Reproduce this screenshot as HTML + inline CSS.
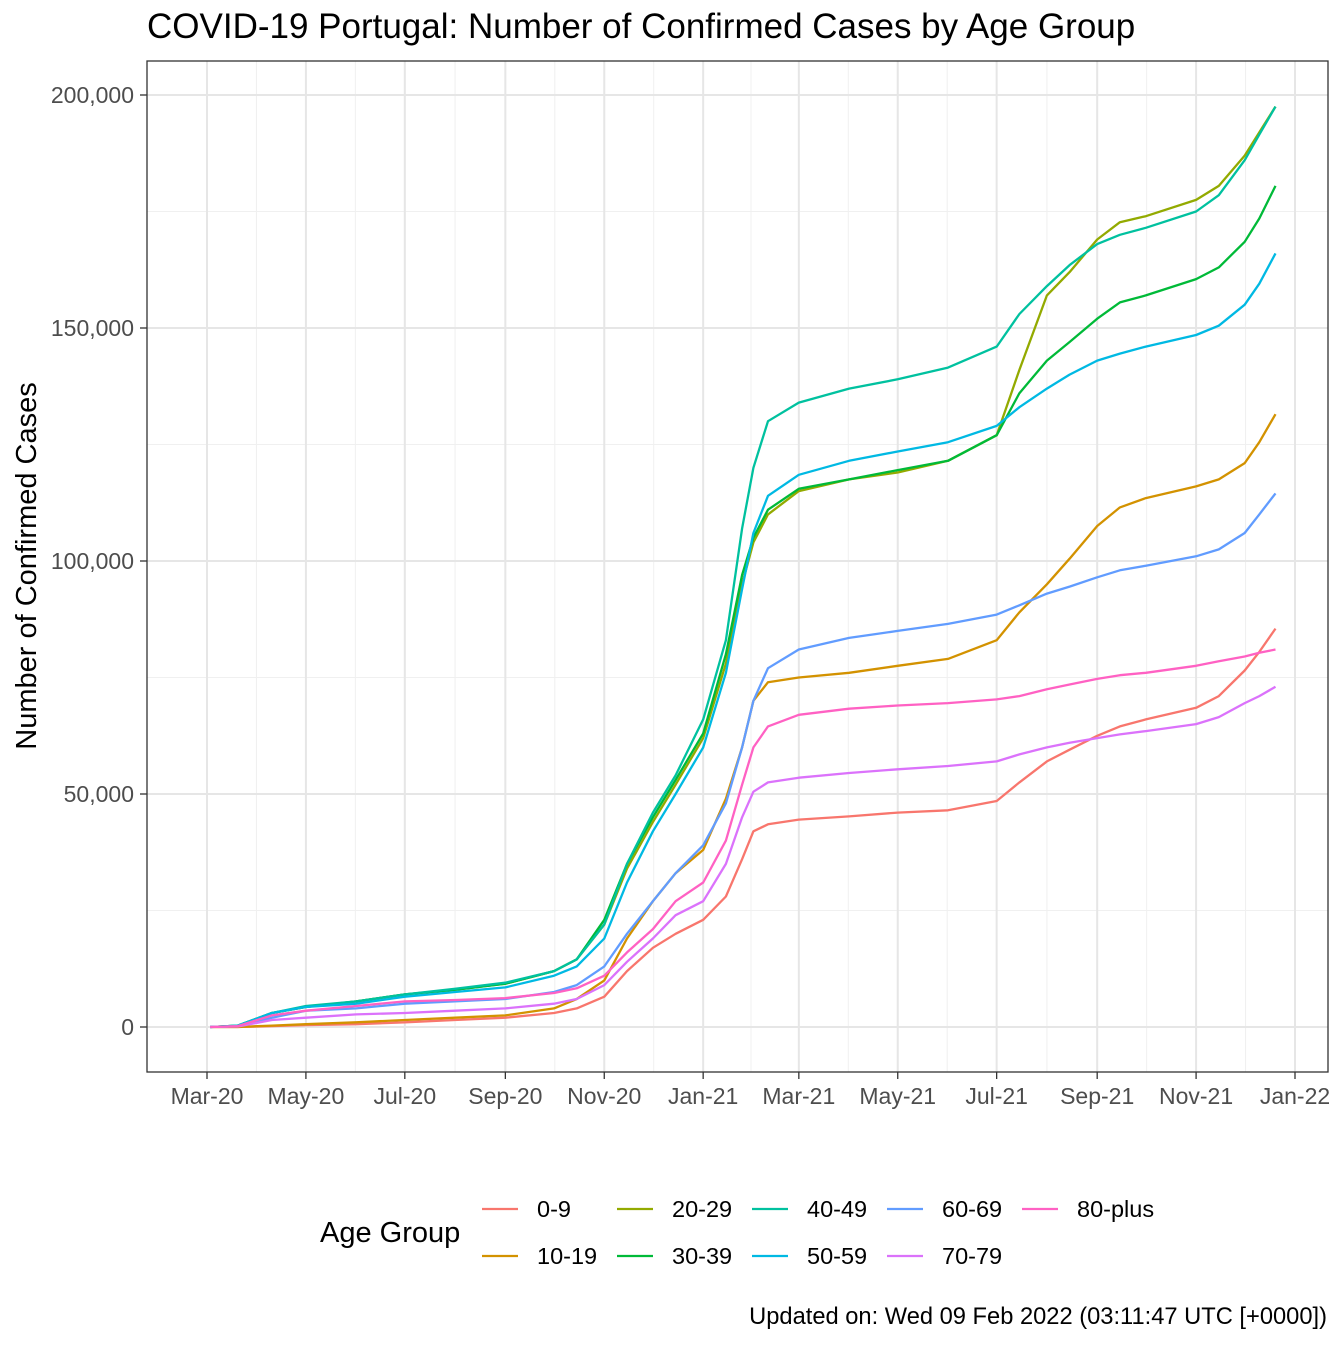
<!DOCTYPE html>
<html><head><meta charset="utf-8"><style>
body{margin:0;background:#fff;}
svg text{font-family:"Liberation Sans",sans-serif;}
</style></head><body>
<svg id="chart" width="1344" height="1344" xmlns="http://www.w3.org/2000/svg">
<rect width="1344" height="1344" fill="#fff"/>
<text x="147" y="38" font-size="35" fill="#000">COVID-19 Portugal: Number of Confirmed Cases by Age Group</text>
<g id="grid"></g>
<g id="series"></g>
<rect x="147" y="61" width="1181" height="1011" fill="none" stroke="#333" stroke-width="1.3"/>
<g id="axes"></g>
<text transform="translate(36,566) rotate(-90)" text-anchor="middle" font-size="29">Number of Confirmed Cases</text>
<g id="legend">
<text x="320" y="1242" font-size="29">Age Group</text>
</g>
<text x="1327" y="1324" text-anchor="end" font-size="23.7">Updated on: Wed 09 Feb 2022 (03:11:47 UTC [+0000])</text>
</svg>
<script>
const dates=["2020-03-03","2020-03-20","2020-04-10","2020-05-01","2020-06-01","2020-07-01","2020-08-01","2020-09-01","2020-10-01","2020-10-15","2020-11-01","2020-11-15","2020-12-01","2020-12-15","2021-01-01","2021-01-15","2021-01-25","2021-02-01","2021-02-10","2021-03-01","2021-04-01","2021-05-01","2021-06-01","2021-07-01","2021-07-15","2021-08-01","2021-08-15","2021-09-01","2021-09-15","2021-10-01","2021-11-01","2021-11-15","2021-12-01","2021-12-10","2021-12-20"];
const groups=["0-9","10-19","20-29","30-39","40-49","50-59","60-69","70-79","80-plus"];
const colors=["#F8766D","#D39200","#93AA00","#00BA38","#00C19F","#00B9E3","#619CFF","#DB72FB","#FF61C3"];
const s0_9=[0,0,0.2,0.4,0.6,1,1.5,2,3,4,6.5,12,17,20,23,28,36,42,43.5,44.5,45.2,46,46.5,48.5,52.5,57,59.5,62.5,64.5,66,68.5,71,76.5,80.5,85.5];
const s10_19=[0,0,0.3,0.6,1,1.5,2,2.5,4,6,10,19,27,33,38,49,60,70,74,75,76,77.5,79,83,89,95,100.5,107.5,111.5,113.5,116,117.5,121,125.5,131.5];
const s20_29=[0,0.3,3,4.3,5.5,7,8,9.3,12,14.5,22,34,44,52,62,78,95,104,110,115,117.5,119,121.5,127,141,157,162,169,172.7,174,177.5,180.5,187,192,197.5];
const s30_39=[0,0.3,3,4.3,5.5,7,8,9.3,12,14.5,23,35,45,53,63,80,97,105,111,115.5,117.5,119.5,121.5,127,136,143,147,152,155.5,157,160.5,163,168.5,173.5,180.5];
const s40_49=[0,0.3,3,4.5,5.5,7,8.2,9.5,12,14.5,22,35,46,54,66,83,107,120,130,134,137,139,141.5,146,153,159,163.5,168,170,171.5,175,178.5,186,191.5,197.5];
const s50_59=[0,0.3,3,4.3,5,6.5,7.5,8.5,11,13,19,31,42,50,60,76,94,106,114,118.5,121.5,123.5,125.5,129,133,137,140,143,144.5,146,148.5,150.5,155,159.5,166];
const s60_69=[0,0.2,2,3.5,4,5,5.5,6,7.5,9,13,20,27,33,39,48,60,70,77,81,83.5,85,86.5,88.5,90.5,93,94.5,96.5,98,99,101,102.5,106,110,114.5];
const s70_79=[0,0.1,1.5,2,2.7,3,3.5,4,5,6,9,14,19,24,27,35,45,50.5,52.5,53.5,54.5,55.3,56,57,58.5,60,61,62,62.8,63.5,65,66.5,69.5,71,73];
const s80_plus=[0,0.2,2.5,3.5,4.5,5.5,5.8,6.2,7.3,8.3,11,16,21,27,31,40,52,60,64.5,67,68.3,69,69.5,70.3,71,72.5,73.5,74.7,75.5,76,77.5,78.5,79.5,80.3,81];
const seriesValues=[s0_9,s10_19,s20_29,s30_39,s40_49,s50_59,s60_69,s70_79,s80_plus];
const xTickLabels=["Mar-20","May-20","Jul-20","Sep-20","Nov-20","Jan-21","Mar-21","May-21","Jul-21","Sep-21","Nov-21","Jan-22"];
const xTickDates=["2020-03-01","2020-05-01","2020-07-01","2020-09-01","2020-11-01","2021-01-01","2021-03-01","2021-05-01","2021-07-01","2021-09-01","2021-11-01","2022-01-01"];
const yTicks=[0,50000,100000,150000,200000];

const NS="http://www.w3.org/2000/svg";
const t0=Date.UTC(2020,2,1), t1=Date.UTC(2022,0,1);
function dms(s){const p=s.split("-");return Date.UTC(+p[0],+p[1]-1,+p[2]);}
function X(s){return 207+(dms(s)-t0)/(t1-t0)*1088;}
function Y(v){return 1027-v/200000*932;}
function mk(tag,attrs,parent){const e=document.createElementNS(NS,tag);for(const k in attrs)e.setAttribute(k,attrs[k]);parent.appendChild(e);return e;}
const grid=document.getElementById("grid"),axes=document.getElementById("axes"),ser=document.getElementById("series"),leg=document.getElementById("legend");
mk("rect",{x:147,y:61,width:1181,height:1011,fill:"#fff"},grid);
for(let i=0;i<xTickDates.length-1;i++){
  const m=(X(xTickDates[i])+X(xTickDates[i+1]))/2;
  const l=mk("line",{x1:m,x2:m,y1:61,y2:1072,stroke:"#f0f0f0","stroke-width":1},grid);
  
  
}
for(let i=0;i<yTicks.length-1;i++){
  const m=Y((yTicks[i]+yTicks[i+1])/2);
  const l=mk("line",{x1:147,x2:1328,y1:m,y2:m,stroke:"#f0f0f0","stroke-width":1},grid);
  
  
}
xTickDates.forEach((d,i)=>{
  const x=X(d);
  const l=mk("line",{x1:x,x2:x,y1:61,y2:1072,stroke:"#e6e6e6","stroke-width":2},grid);
  
  
  mk("line",{x1:x,x2:x,y1:1072,y2:1079,stroke:"#333","stroke-width":1.3},axes);
  const t=mk("text",{x:x,y:1104,"text-anchor":"middle","font-size":23,fill:"#4d4d4d"},axes);
  t.textContent=xTickLabels[i];
  
  
});
yTicks.forEach(v=>{
  const y=Y(v);
  const l=mk("line",{x1:147,x2:1328,y1:y,y2:y,stroke:"#e6e6e6","stroke-width":2},grid);
  
  
  mk("line",{x1:140,x2:147,y1:y,y2:y,stroke:"#333","stroke-width":1.3},axes);
  const t=mk("text",{x:134,y:y+8,"text-anchor":"end","font-size":23,fill:"#4d4d4d"},axes);
  t.textContent=v.toLocaleString("en-US");
  
  
});
seriesValues.forEach((vals,i)=>{
  const pts=vals.map((v,j)=>X(dates[j]).toFixed(1)+","+Y(v*1000).toFixed(1)).join(" ");
  const p=mk("polyline",{points:pts,fill:"none",stroke:colors[i],"stroke-width":2.3,"stroke-linejoin":"round"},ser);
  
  
});
groups.forEach((g,i)=>{
  const col=Math.floor(i/2),row=i%2;
  const x=482+col*135,y=1209+row*47;
  const l=mk("line",{x1:x,x2:x+36,y1:y,y2:y,stroke:colors[i],"stroke-width":2.3},leg);
  
  
  const t=mk("text",{x:x+55,y:y+8,"font-size":23.5},leg);
  t.textContent=g;
  
  
});
</script>
</body></html>
